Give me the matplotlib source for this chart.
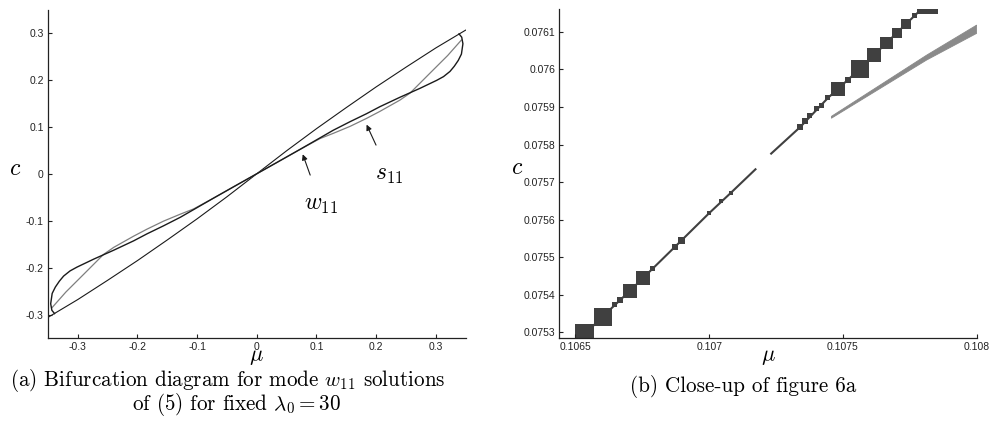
import numpy as np
import matplotlib
matplotlib.use('Agg')
import matplotlib.pyplot as plt

plt.rcParams['mathtext.fontset'] = 'cm'

# panel (a): bifurcation diagram
mu_line = [-0.35, -0.3, -0.25, -0.2, -0.15, -0.1, -0.05, 0.0, 0.05, 0.1, 0.15, 0.2, 0.25, 0.3, 0.35]
c_line = [-0.306, -0.268, -0.227, -0.185, -0.141, -0.096, -0.049, 0.0, 0.049, 0.096, 0.141, 0.185, 0.227, 0.268, 0.306]

mu_w11 = [-0.339, -0.3435, -0.3455, -0.343, -0.3377, -0.331, -0.3238, -0.313, -0.3015, -0.2735, -0.24,
          -0.2065, -0.184, -0.1564, -0.128, -0.0726, -0.035, 0.0, 0.035, 0.0726, 0.128, 0.1564, 0.184,
          0.2065, 0.24, 0.2735, 0.3015, 0.313, 0.3238, 0.331, 0.3377, 0.343, 0.3455, 0.3435, 0.339]
c_w11 = [-0.298, -0.291, -0.277, -0.255, -0.2415, -0.229, -0.218, -0.207, -0.199, -0.182, -0.163,
         -0.143, -0.128, -0.111, -0.0926, -0.052, -0.025, 0.0, 0.025, 0.052, 0.0926, 0.111, 0.128,
         0.143, 0.163, 0.182, 0.199, 0.207, 0.218, 0.229, 0.2415, 0.255, 0.277, 0.291, 0.298]

mu_s11 = [-0.343, -0.32, -0.29, -0.257, -0.24, -0.2065, -0.184, -0.1564, -0.128, -0.106, -0.0726,
          -0.035, 0.0, 0.035, 0.0726, 0.106, 0.128, 0.1564, 0.184, 0.2065, 0.24, 0.257, 0.29, 0.32, 0.343]
c_s11 = [-0.285, -0.252, -0.214, -0.172, -0.157, -0.133, -0.118, -0.101, -0.086, -0.075, -0.052,
         -0.025, 0.0, 0.025, 0.052, 0.075, 0.086, 0.101, 0.118, 0.133, 0.157, 0.172, 0.214, 0.252, 0.285]

# panel (b): close-up, black branch drawn as squares of varying size
mu_sq = [0.106536, 0.106602, 0.106645, 0.106666, 0.106703, 0.106753, 0.106788, 0.106871, 0.106897,
         0.107001, 0.107045, 0.107082,
         0.107341, 0.107357, 0.107376, 0.107401, 0.107420, 0.107444, 0.107483, 0.107519, 0.107563,
         0.107617, 0.107662, 0.107703, 0.107737, 0.107768, 0.107816]
c_sq = [0.075297, 0.075342, 0.075373, 0.075386, 0.075410, 0.075446, 0.075469, 0.075528, 0.075545,
        0.075618, 0.075650, 0.075672,
        0.075847, 0.075863, 0.075876, 0.075896, 0.075905, 0.075924, 0.075947, 0.075972, 0.076001,
        0.076039, 0.076070, 0.076097, 0.076122, 0.076143, 0.076176]
sq_px = [19, 18, 5, 5.5, 14, 14, 5, 6, 6.5, 4, 4, 4,
         6, 6, 5, 5, 5, 5, 14, 5.5, 18, 14, 12.5, 10, 10, 5.5, 21]

# thin line joining the squares, with the gap near mu = 0.1072
mu_blk1 = [0.106520, 0.106602, 0.106703, 0.106788, 0.106897, 0.107001, 0.107082, 0.107176]
c_blk1 = [0.075285, 0.075342, 0.075410, 0.075469, 0.075545, 0.075618, 0.075672, 0.075736]
mu_blk2 = [0.107229, 0.107341, 0.107444, 0.107563, 0.107662, 0.107768, 0.107816]
c_blk2 = [0.075774, 0.075847, 0.075924, 0.076001, 0.076070, 0.076143, 0.076176]

mu_gray = [0.107457, 0.107813, 0.108, 0.108, 0.107813, 0.107457]
c_gray = [0.075870, 0.076025, 0.076096, 0.076118, 0.076038, 0.075875]

tick_font = {'family': 'Liberation Sans', 'size': 7.5}


def style_axes(ax):
	for side in ('top', 'right'):
		ax.spines[side].set_visible(False)
	for side in ('left', 'bottom'):
		ax.spines[side].set_linewidth(0.9)
		ax.spines[side].set_color('#222222')
	ax.tick_params(direction='in', length=3, width=0.8, colors='#222222', pad=3)


def panel_a(fig):
	ax = fig.add_axes([48 / 989, 87 / 425, 417.6 / 989, 328.5 / 425])
	ax.plot(mu_line, c_line, color='#1a1a1a', lw=0.8)
	ax.plot(mu_s11, c_s11, color='#7f7f7f', lw=0.9)
	ax.plot(mu_w11, c_w11, color='#1a1a1a', lw=1.0)
	ax.set_xlim(-0.35, 0.35)
	ax.set_ylim(-0.35, 0.35)
	xt = [-0.3, -0.2, -0.1, 0, 0.1, 0.2, 0.3]
	labels = ['-0.3', '-0.2', '-0.1', '0', '0.1', '0.2', '0.3']
	ax.set_xticks(xt)
	ax.set_xticklabels(labels, fontdict=tick_font)
	ax.set_yticks(xt)
	ax.set_yticklabels(labels, fontdict=tick_font)
	style_axes(ax)

	arrow = dict(arrowstyle='-|>', color='#1a1a1a', lw=0.8, mutation_scale=8, shrinkA=11, shrinkB=0)
	ax.annotate('$w_{11}$', xy=(0.077, 0.0415), xytext=(0.107, -0.065), fontsize=17,
		ha='center', va='center', arrowprops=arrow)
	ax.annotate('$s_{11}$', xy=(0.184, 0.1047), xytext=(0.222, 0.0), fontsize=17,
		ha='center', va='center', arrowprops=arrow)

	ax.set_xlabel(r'$\mu$', fontsize=16, va='center')
	ax.xaxis.set_label_coords(0.498, -0.058)
	ax.set_ylabel('$c$', fontsize=17, rotation=0, va='center', ha='center')
	ax.yaxis.set_label_coords(-0.079, 0.517)


def panel_b(fig):
	ax = fig.add_axes([559.3 / 989, 87 / 425, 417.4 / 989, 328.7 / 425])
	ax.fill(mu_gray, c_gray, color='#8a8a8a', lw=0.6, ec='#8a8a8a')
	ax.plot(mu_blk1, c_blk1, color='#404040', lw=1.5, solid_capstyle='butt')
	ax.plot(mu_blk2, c_blk2, color='#404040', lw=1.5, solid_capstyle='butt')
	sizes = (np.array(sq_px) * 0.72) ** 2
	ax.scatter(mu_sq, c_sq, s=sizes, marker='s', color='#404040', linewidths=0)
	ax.set_xlim(0.10644, 0.108)
	ax.set_ylim(0.075285, 0.07616)
	xt = [0.1065, 0.107, 0.1075, 0.108]
	ax.set_xticks(xt)
	ax.set_xticklabels(['0.1065', '0.107', '0.1075', '0.108'], fontdict=tick_font)
	yt = [0.0753, 0.0754, 0.0755, 0.0756, 0.0757, 0.0758, 0.0759, 0.076, 0.0761]
	ax.set_yticks(yt)
	ax.set_yticklabels(['0.0753', '0.0754', '0.0755', '0.0756', '0.0757', '0.0758', '0.0759',
		'0.076', '0.0761'], fontdict=tick_font)
	style_axes(ax)

	ax.set_xlabel(r'$\mu$', fontsize=16, va='center')
	ax.xaxis.set_label_coords(0.5, -0.058)
	ax.set_ylabel('$c$', fontsize=17, rotation=0, va='center', ha='center')
	ax.yaxis.set_label_coords(-0.102, 0.521)


def main():
	fig = plt.figure(figsize=(9.89, 4.25), dpi=100)
	panel_a(fig)
	panel_b(fig)

	cap = dict(family='cmr10', size=15.2, ha='center', va='center')
	fig.text(228 / 989, 1 - 381 / 425, r'(a) Bifurcation diagram for mode $w_{11}$ solutions', **cap)
	fig.text(236 / 989, 1 - 405 / 425, r'of (5) for fixed $\lambda_0 = 30$', **cap)
	fig.text(743 / 989, 1 - 387 / 425, '(b) Close-up of figure 6a', **cap)

	fig.savefig('out.png', dpi=100)


if __name__ == '__main__':
	main()
